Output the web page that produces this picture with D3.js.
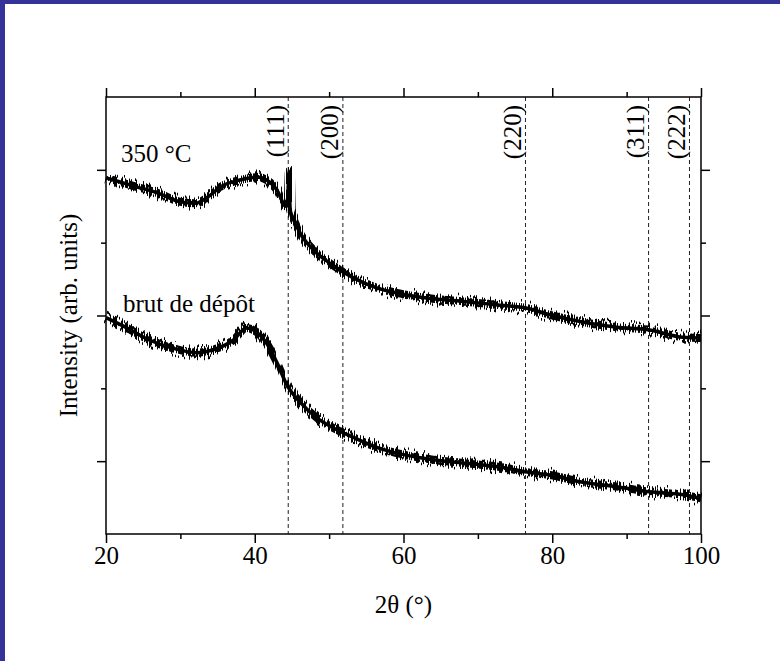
<!DOCTYPE html>
<html>
<head>
<meta charset="utf-8">
<script src="https://cdn.jsdelivr.net/npm/d3@7"></script>
<style>
  html, body { margin: 0; padding: 0; background: #fff; }
  svg { display: block; }
  text { font-family: "Liberation Serif", "Times New Roman", Times, serif; fill: #000; }
</style>
</head>
<body>
<svg id="chart" width="780" height="661"></svg>
<script>
// ---- data ----
const annealedLabel = "350 °C";
const annealedAngles = [20, 22, 24, 27, 30, 32, 34, 35.3, 38, 40.3, 41.6, 43, 44.2, 44.45, 44.6, 44.75, 45.2, 46.1, 47.9, 50.5, 53.2, 56.4, 59.1, 64, 68.5, 73, 76.6, 79.7, 84.1, 88.7, 93.1, 97.6, 100];
const annealedValues = [4.89, 4.83, 4.77, 4.68, 4.56, 4.54, 4.65, 4.76, 4.86, 4.90, 4.86, 4.72, 4.50, 4.62, 4.98, 4.45, 4.33, 4.13, 3.90, 3.69, 3.52, 3.38, 3.31, 3.23, 3.19, 3.14, 3.10, 3.01, 2.91, 2.84, 2.80, 2.70, 2.69];

const depositLabel = "brut de dépôt";
const depositAngles = [20, 22.8, 25.9, 29, 32.2, 34.4, 37.1, 38.9, 40.3, 41.6, 43, 44.3, 46.1, 48.4, 50.5, 53.2, 56.4, 59.1, 64, 68.5, 73, 76.6, 79.7, 84.1, 88.7, 93.1, 97.6, 100];
const depositValues = [2.97, 2.83, 2.66, 2.55, 2.49, 2.53, 2.66, 2.83, 2.77, 2.62, 2.35, 2.05, 1.81, 1.59, 1.46, 1.33, 1.19, 1.11, 1.02, 0.97, 0.92, 0.85, 0.81, 0.71, 0.65, 0.58, 0.54, 0.49];

const peakLabels = ["(111)", "(200)", "(220)", "(311)", "(222)"];
const peakAngles = [44.5, 51.85, 76.4, 92.95, 98.45];

const xMajorTicks = [20, 40, 60, 80, 100];
const xMinorTicks = [30, 50, 70, 90];
const yMajorTicks = [1, 3, 5];
const yMinorTicks = [2, 4];

const xTitle = "2θ (°)";
const yTitle = "Intensity (arb. units)";

// ---- layout ----
const W = 780, H = 661;
const L = 106, R = 701, T = 97, B = 534;
const FS = 25;

const svg = d3.select("#chart");

// frame border
svg.append("rect").attr("x", 0).attr("y", 0).attr("width", W).attr("height", H).attr("fill", "#fff");
svg.append("rect").attr("x", 0).attr("y", 0).attr("width", W).attr("height", 4).attr("fill", "#333399");
svg.append("rect").attr("x", 0).attr("y", 0).attr("width", 5).attr("height", H).attr("fill", "#333399");

const x = d3.scaleLinear().domain([20, 100]).range([L, R]);
const y = d3.scaleLinear().domain([0, 6]).range([B, T]);

// texture filters (visual grain of the scan, applied as a style)
const defs = svg.append("defs");
function makeMaskFilter(id, seed, table) {
  const f = defs.append("filter").attr("id", id)
    .attr("x", "-1%").attr("y", "-60%").attr("width", "102%").attr("height", "220%")
    .attr("color-interpolation-filters", "sRGB");
  f.append("feTurbulence").attr("type", "fractalNoise").attr("baseFrequency", "0.85 0.0004")
    .attr("numOctaves", 1).attr("seed", seed).attr("result", "t");
  f.append("feColorMatrix").attr("in", "t").attr("type", "matrix")
    .attr("values", "0 0 0 0 0  0 0 0 0 0  0 0 0 0 0  0 1 0 0 0").attr("result", "a");
  const ct = f.append("feComponentTransfer").attr("in", "a").attr("result", "mask");
  ct.append("feFuncA").attr("type", "discrete").attr("tableValues", table);
  f.append("feComposite").attr("in", "SourceGraphic").attr("in2", "mask").attr("operator", "in");
}
makeMaskFilter("grain1", 5,  "0 0 0 0 0 1 1 1 1 1");
makeMaskFilter("grain2", 23, "0 0 0 0 0 0 1 1 1 1");
makeMaskFilter("grain3", 41, "0 0 0 0 0 0 0 1 1 1");
function makeShiftFilter(id, seed, scale) {
  const f = defs.append("filter").attr("id", id)
    .attr("x", "-1%").attr("y", "-60%").attr("width", "102%").attr("height", "220%")
    .attr("color-interpolation-filters", "sRGB");
  f.append("feTurbulence").attr("type", "fractalNoise").attr("baseFrequency", "0.7 0.004")
    .attr("numOctaves", 1).attr("seed", seed).attr("result", "t");
  f.append("feColorMatrix").attr("in", "t").attr("type", "matrix")
    .attr("values", "0 0 0 0 0.5  0 2.5 0 0 -0.75  0 0 0 0 0  0 0 0 0 1").attr("result", "m");
  f.append("feDisplacementMap").attr("in", "SourceGraphic").attr("in2", "m")
    .attr("scale", scale).attr("xChannelSelector", "R").attr("yChannelSelector", "G");
}
makeShiftFilter("shift1", 3, 14);

const line = d3.line().x(d => x(d[0])).y(d => y(d[1])).curve(d3.curveMonotoneX);

function drawSeries(angles, values) {
  const pts = angles.map((a, i) => [a, values[i]]);
  const g = svg.append("g");
  const layer = (w, f) => {
    const p = g.append("path").datum(pts).attr("d", line).attr("fill", "none")
      .attr("stroke", "#000").attr("stroke-width", w);
    if (f) p.attr("filter", `url(#${f})`);
  };
  layer(3.5, null);
  layer(8, "grain1");
  layer(11.5, "grain2");
  layer(15, "grain3");
  layer(2.5, "shift1");
}

// dashed reference lines
svg.append("g").selectAll("line").data(peakAngles).join("line")
  .attr("x1", d => x(d)).attr("x2", d => x(d))
  .attr("y1", T).attr("y2", B)
  .attr("stroke", "#222").attr("stroke-width", 1).attr("stroke-dasharray", "4,3");

drawSeries(annealedAngles, annealedValues);
drawSeries(depositAngles, depositValues);

// peak labels
svg.append("g").selectAll("text").data(peakAngles).join("text")
  .attr("transform", d => `translate(${x(d) - 4.5},105) rotate(-90)`)
  .attr("text-anchor", "end")
  .attr("font-size", FS)
  .text((d, i) => peakLabels[i]);

// axes
function styleAxis(g) {
  g.select(".domain").remove();
  g.selectAll(".tick line").attr("stroke", "#000").attr("stroke-width", 1.5);
}
svg.append("g").attr("transform", `translate(0,${B})`)
  .call(d3.axisBottom(x).tickValues(xMajorTicks).tickSize(9).tickPadding(3).tickFormat(d3.format("d")))
  .call(styleAxis)
  .call(g => g.attr("font-family", null).selectAll("text").attr("font-size", FS));
svg.append("g").attr("transform", `translate(0,${B})`)
  .call(d3.axisBottom(x).tickValues(xMinorTicks).tickSize(5).tickFormat(""))
  .call(styleAxis);
svg.append("g").attr("transform", `translate(0,${T})`)
  .call(d3.axisTop(x).tickValues(xMajorTicks).tickSize(9).tickFormat(""))
  .call(styleAxis);
svg.append("g").attr("transform", `translate(0,${T})`)
  .call(d3.axisTop(x).tickValues(xMinorTicks).tickSize(5).tickFormat(""))
  .call(styleAxis);
svg.append("g").attr("transform", `translate(${L},0)`)
  .call(d3.axisLeft(y).tickValues(yMajorTicks).tickSize(9).tickFormat(""))
  .call(styleAxis);
svg.append("g").attr("transform", `translate(${L},0)`)
  .call(d3.axisLeft(y).tickValues(yMinorTicks).tickSize(5).tickFormat(""))
  .call(styleAxis);
svg.append("g").attr("transform", `translate(${R},0)`)
  .call(d3.axisRight(y).tickValues(yMajorTicks).tickSize(9).tickFormat(""))
  .call(styleAxis);
svg.append("g").attr("transform", `translate(${R},0)`)
  .call(d3.axisRight(y).tickValues(yMinorTicks).tickSize(5).tickFormat(""))
  .call(styleAxis);

// frame
svg.append("rect").attr("x", L).attr("y", T).attr("width", R - L).attr("height", B - T)
  .attr("fill", "none").attr("stroke", "#000").attr("stroke-width", 1.5);

// series labels
svg.append("text").attr("x", 121).attr("y", 162).attr("font-size", FS).text(annealedLabel);
svg.append("text").attr("x", 123).attr("y", 312).attr("font-size", FS).text(depositLabel);

// axis titles
svg.append("text").attr("x", (L + R) / 2).attr("y", 613).attr("text-anchor", "middle")
  .attr("font-size", FS).text(xTitle);
svg.append("text").attr("transform", `translate(77,${(T + B) / 2}) rotate(-90)`)
  .attr("text-anchor", "middle").attr("font-size", FS).text(yTitle);
</script>
</body>
</html>
